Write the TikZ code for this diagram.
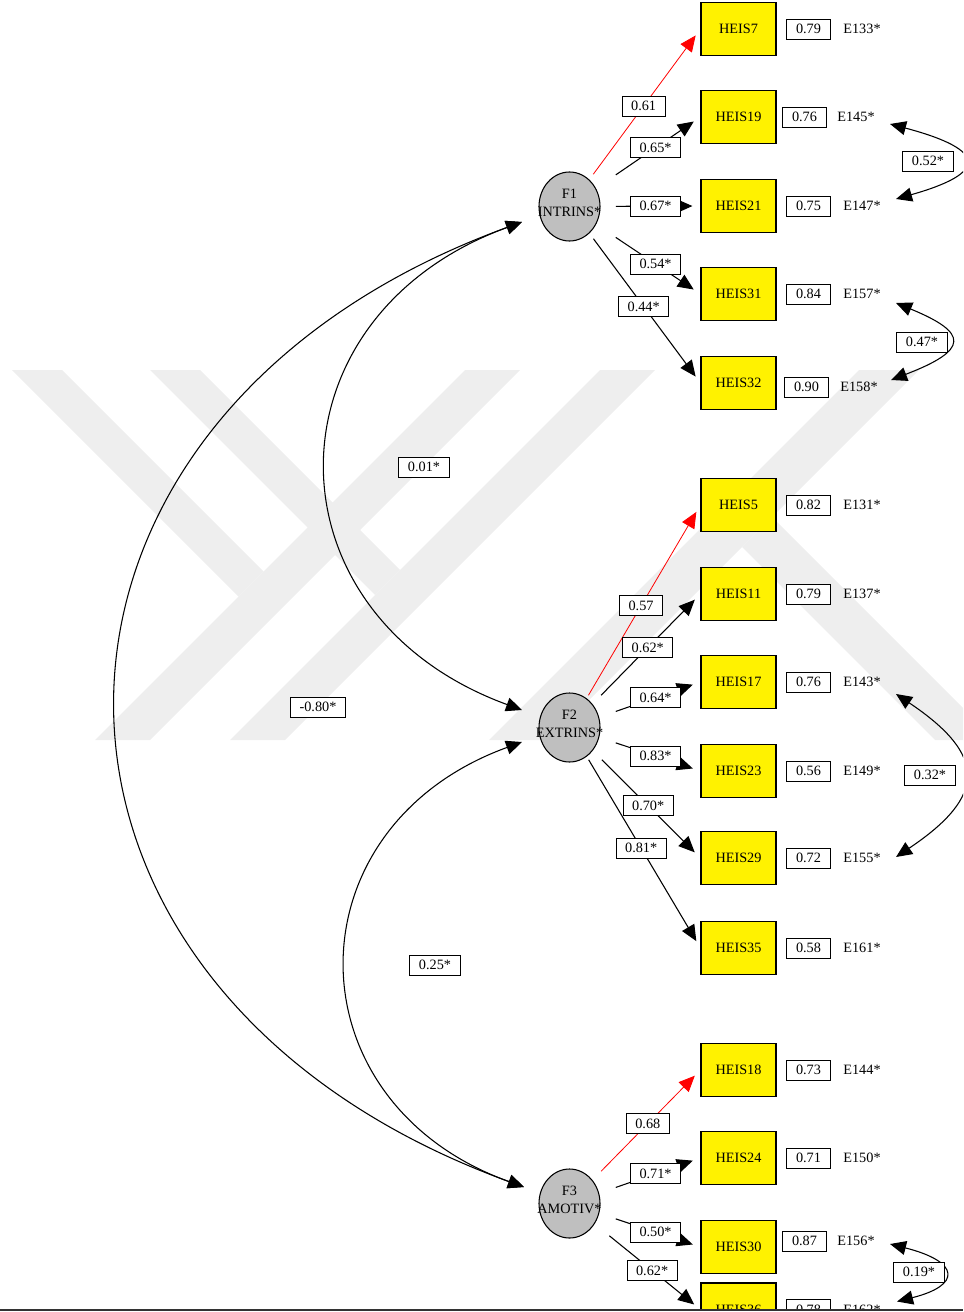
\documentclass[tikz,border=0pt]{standalone}
\usepackage{fontspec}
\setmainfont{Liberation Serif}
\usetikzlibrary{arrows.meta,calc,shapes.geometric}

\begin{document}
\begin{tikzpicture}[x=0.75pt,y=-0.75pt,
  font=\fontsize{10.7}{13.5}\selectfont,
  item/.style={draw,fill=yellow,line width=0.9pt,minimum width=56.25pt,minimum height=39.75pt,inner sep=0pt},
  val/.style={draw=black,text=black,fill=white,line width=0.7pt,inner xsep=6.8pt,inner ysep=0pt,minimum height=15pt},
  fac/.style={ellipse,draw,fill=gray!50,line width=0.8pt,minimum width=45.75pt,minimum height=51.75pt,inner sep=0pt},
  facout/.style={rectangle,minimum width=69pt,minimum height=48pt,inner sep=0pt},
  load/.style={line width=0.8pt,-{Triangle[length=12pt,width=10.5pt]},shorten >=6pt},
  fixed/.style={load,red,line width=0.6pt},
  cov/.style={line width=0.8pt,{Triangle[length=12pt,width=10.5pt]}-{Triangle[length=12pt,width=10.5pt]}},
  wmark/.style={fill=gray!13}]

\useasboundingbox (0,0) rectangle (963,1312);

\begin{scope}
\clip (0,0) rectangle (963,1309);

% faint watermark behind the diagram
\fill[wmark] (95,740) -- (465,370) -- (520,370) -- (150,740) -- cycle;
\fill[wmark] (12,370) -- (62,370) -- (263.5,571.5) -- (238.5,596.5) -- cycle;
\fill[wmark] (230,740) -- (600,370) -- (655,370) -- (285,740) -- cycle;
\fill[wmark] (150,370) -- (200,370) -- (400,570) -- (375,595) -- cycle;
\fill[wmark] (489,740) -- (859,370) -- (919,370) -- (549,740) -- cycle;
\fill[wmark] (742,547) -- (772,517) -- (995,740) -- (935,740) -- cycle;

% the three factors
\foreach \f/\y/\nm in {1/206.5/INTRINS*,2/727.5/EXTRINS*,3/1203.5/AMOTIV*} {
  \node[fac,label={[align=center,yshift=3pt]center:F\f\\\nm}] (F\f) at (569.5,\y) {};
  \node[facout] (F\f-out) at (569.5,\y) {};
}

% items, error variances and error terms
\foreach \n/\y/\v/\e/\dx/\dy in {7/29/0.79/133/0/0, 19/117/0.76/145/-4/0,
    21/206/0.75/147/0/0, 31/294/0.84/157/0/0, 32/383/0.90/158/-2/4,
    5/505/0.82/131/0/0, 11/594/0.79/137/0/0, 17/682/0.76/143/0/0,
    23/771/0.56/149/0/0, 29/858/0.72/155/0/0, 35/948/0.58/161/0/0,
    18/1070/0.73/144/0/0, 24/1158/0.71/150/0/0, 30/1247/0.87/156/-4/-6,
    36/1309.5/0.78/162/0/0} {
  \node[item] (H\n) at (738.5,\y) {HEIS\n};
  \node[val] (V\n) at (808.5+\dx,\y+\dy) {\v};
  \node (E\e) at (862+1.5*\dx,\y+\dy) {E\e*};
}

% loadings (first one of each factor fixed, in red)
\foreach \f/\n/\l in {1/7/0.61,2/5/0.57,3/18/0.68}
  \draw[fixed] (F\f-out) -- (H\n.west) node[val,pos=0.47] {\l};
\foreach \f/\n/\l in {1/19/0.65*,1/21/0.67*,1/31/0.54*,1/32/0.44*,
    2/11/0.62*,2/17/0.64*,2/23/0.83*,2/29/0.70*,2/35/0.81*,
    3/24/0.71*,3/30/0.50*,3/36/0.62*}
  \draw[load] (F\f-out) -- (H\n.west) node[val,pos=0.47] {\l};

% factor covariances
\coordinate (F1in) at ($(F1)+(-47.5,15.5)$);
\coordinate (F2a) at ($(F2)+(-47.5,-17.5)$);
\coordinate (F2b) at ($(F2)+(-47.5,14.5)$);
\coordinate (F3in) at ($(F3)+(-45.5,-16.5)$);
\draw[cov] (F1in) .. controls +(-260,95) and +(-260,-95) .. (F2a);
\draw[cov] (F1in) .. controls +(-540,197) and +(-542,-197) .. (F3in);
\draw[cov] (F2b) .. controls +(-234,85) and +(-236,-85) .. (F3in);
\node[val] (c12) at (424,467) {0.01*};
\node[val] (c13) at (318,707) {-0.80*};
\node[val] (c23) at (435,965) {0.25*};

% error covariances
\coordinate (t145) at ($(E145)+(34,7)$);
\coordinate (t147) at ($(E147)+(34,-7)$);
\coordinate (t157) at ($(E157)+(34,9)$);
\coordinate (t158) at ($(E158)+(32,-7)$);
\coordinate (t143) at ($(E143)+(34,12)$);
\coordinate (t155) at ($(E155)+(34,-1)$);
\coordinate (t156) at ($(E156)+(34,3)$);
\coordinate (t162) at ($(E162)+(35,-8)$);
\draw[cov] (t145) .. controls +(98,26) and +(92,-26) .. (t147);
\draw[cov] (t157) .. controls +(73,30) and +(78,-30) .. (t158);
\draw[cov] (t143) .. controls +(91,61) and +(91,-61) .. (t155);
\draw[cov] (t156) .. controls +(71,18) and +(64,-16) .. (t162);
\node[val] (c52) at (928,161) {0.52*};
\node[val] (c47) at (922,342) {0.47*};
\node[val] (c32) at (930,775) {0.32*};
\node[val] (c19) at (919,1272) {0.19*};
\end{scope}

% page cut
\draw[line width=1.6pt,black!80] (0,1310) -- (963,1310);
\end{tikzpicture}
\end{document}
